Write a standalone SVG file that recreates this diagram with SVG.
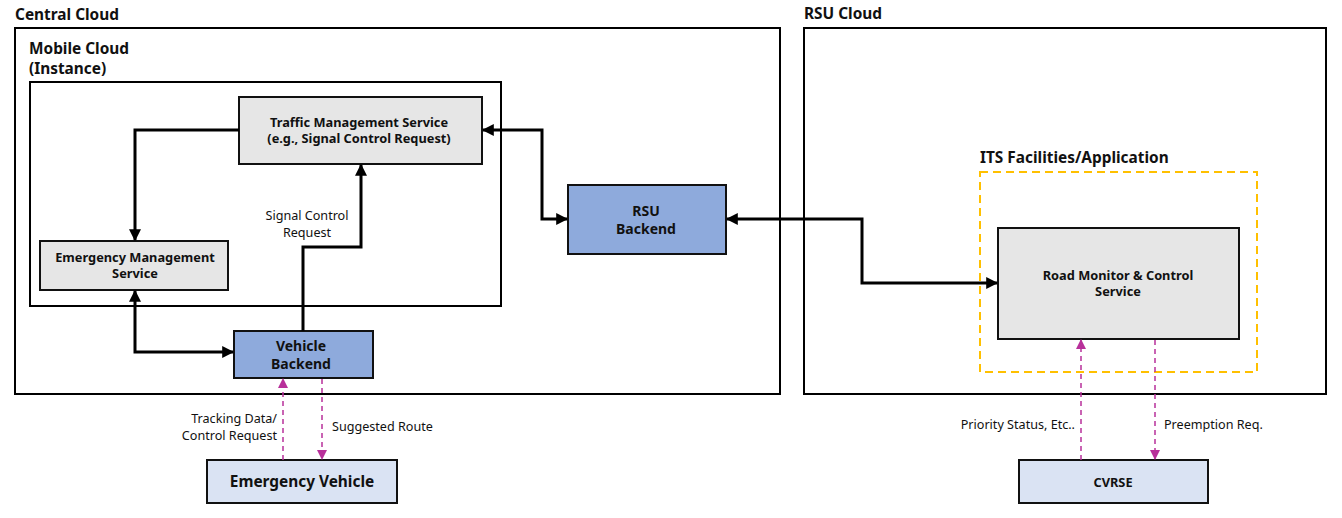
<svg xmlns="http://www.w3.org/2000/svg" width="1342" height="518" viewBox="0 0 1342 518">
<style>
text{font-family:"Noto Sans","Liberation Sans",sans-serif;fill:#111}
.h{font-weight:bold;font-size:15.4px}
.b{font-weight:bold;font-size:12.8px;text-anchor:middle}
.bb{font-weight:bold;font-size:14px;text-anchor:middle}
.l{font-size:12.6px}
.frame{fill:#fff;stroke:#000;stroke-width:2}
.grey{fill:#e6e6e6;stroke:#111;stroke-width:2}
.blue{fill:#8eaadc;stroke:#111;stroke-width:2}
.light{fill:#dae3f3;stroke:#111;stroke-width:2}
.c{fill:none;stroke:#000;stroke-width:3}
.d{fill:none;stroke:#b8309a;stroke-width:1.5;stroke-dasharray:5 4}
</style>
<defs>
<marker id="a" viewBox="0 0 10 10" refX="9" refY="5" markerWidth="4" markerHeight="4" orient="auto-start-reverse" markerUnits="strokeWidth"><path d="M0,0L10,5L0,10z" fill="#000"/></marker>
<marker id="m" viewBox="0 0 10 10" refX="9" refY="5" markerWidth="7" markerHeight="7" orient="auto-start-reverse" markerUnits="strokeWidth"><path d="M0,0L10,5L0,10z" fill="#b8309a"/></marker>
</defs>
<rect width="1342" height="518" fill="#fff"/>
<g id="central-cloud">
<rect class="frame" x="15" y="28" width="765" height="366"/>
<text class="h" x="15" y="20">Central Cloud</text>
</g>
<g id="mobile-cloud">
<rect class="frame" x="30" y="82" width="471" height="224"/>
<text class="h" x="29" y="54">Mobile Cloud</text>
<text class="h" x="29" y="74">(Instance)</text>
</g>
<g id="rsu-cloud">
<rect class="frame" x="804" y="28" width="522" height="366"/>
<text class="h" x="804" y="19">RSU Cloud</text>
</g>
<g id="its-facilities">
<rect x="980" y="172" width="277" height="200" fill="none" stroke="#ffc000" stroke-width="2" stroke-dasharray="8 5"/>
<text class="h" x="980" y="163">ITS Facilities/Application</text>
</g>
<g id="traffic-management">
<rect class="grey" x="239" y="97" width="243" height="67"/>
<text class="b" x="359" y="127">Traffic Management Service</text>
<text class="b" x="359" y="143">(e.g., Signal Control Request)</text>
</g>
<g id="emergency-management">
<rect class="grey" x="40" y="241" width="188" height="49"/>
<text class="b" x="135" y="262">Emergency Management</text>
<text class="b" x="135" y="278">Service</text>
</g>
<g id="vehicle-backend">
<rect class="blue" x="234" y="331" width="139" height="47"/>
<text class="bb" x="301" y="351">Vehicle</text>
<text class="bb" x="301" y="369">Backend</text>
</g>
<g id="rsu-backend">
<rect class="blue" x="568" y="185" width="158" height="69"/>
<text class="bb" x="646" y="216">RSU</text>
<text class="bb" x="646" y="234">Backend</text>
</g>
<g id="road-monitor">
<rect class="grey" x="998" y="228" width="241" height="111"/>
<text class="b" x="1118" y="280">Road Monitor &amp; Control</text>
<text class="b" x="1118" y="296">Service</text>
</g>
<g id="emergency-vehicle">
<rect class="light" x="207" y="460" width="190" height="43"/>
<text x="302" y="487" style="font-weight:bold;font-size:15.4px;text-anchor:middle">Emergency Vehicle</text>
</g>
<g id="cvrse">
<rect class="light" x="1019" y="460" width="189" height="43"/>
<text class="b" x="1113" y="487">CVRSE</text>
</g>
<g id="connectors">
<path class="c" d="M239,130H135V240" marker-end="url(#a)"/>
<path class="c" d="M135,291V352H233" marker-start="url(#a)" marker-end="url(#a)"/>
<path class="c" d="M303,331V247H361V165" marker-end="url(#a)"/>
<path class="c" d="M483,130H542V219H567" marker-start="url(#a)" marker-end="url(#a)"/>
<path class="c" d="M727,219H862V283H997" marker-start="url(#a)" marker-end="url(#a)"/>
<path class="d" d="M283,460V379" marker-end="url(#m)"/>
<path class="d" d="M322,379V459" marker-end="url(#m)"/>
<path class="d" d="M1081,460V340" marker-end="url(#m)"/>
<path class="d" d="M1155,340V459" marker-end="url(#m)"/>
<text class="l" x="307" y="220" text-anchor="middle">Signal Control</text>
<text class="l" x="307" y="237" text-anchor="middle">Request</text>
<text class="l" x="277" y="423" text-anchor="end">Tracking Data/</text>
<text class="l" x="277" y="440" text-anchor="end">Control Request</text>
<text class="l" x="332" y="431">Suggested Route</text>
<text class="l" x="1075" y="429" text-anchor="end">Priority Status, Etc..</text>
<text class="l" x="1164" y="429">Preemption Req.</text>
</g>
</svg>
